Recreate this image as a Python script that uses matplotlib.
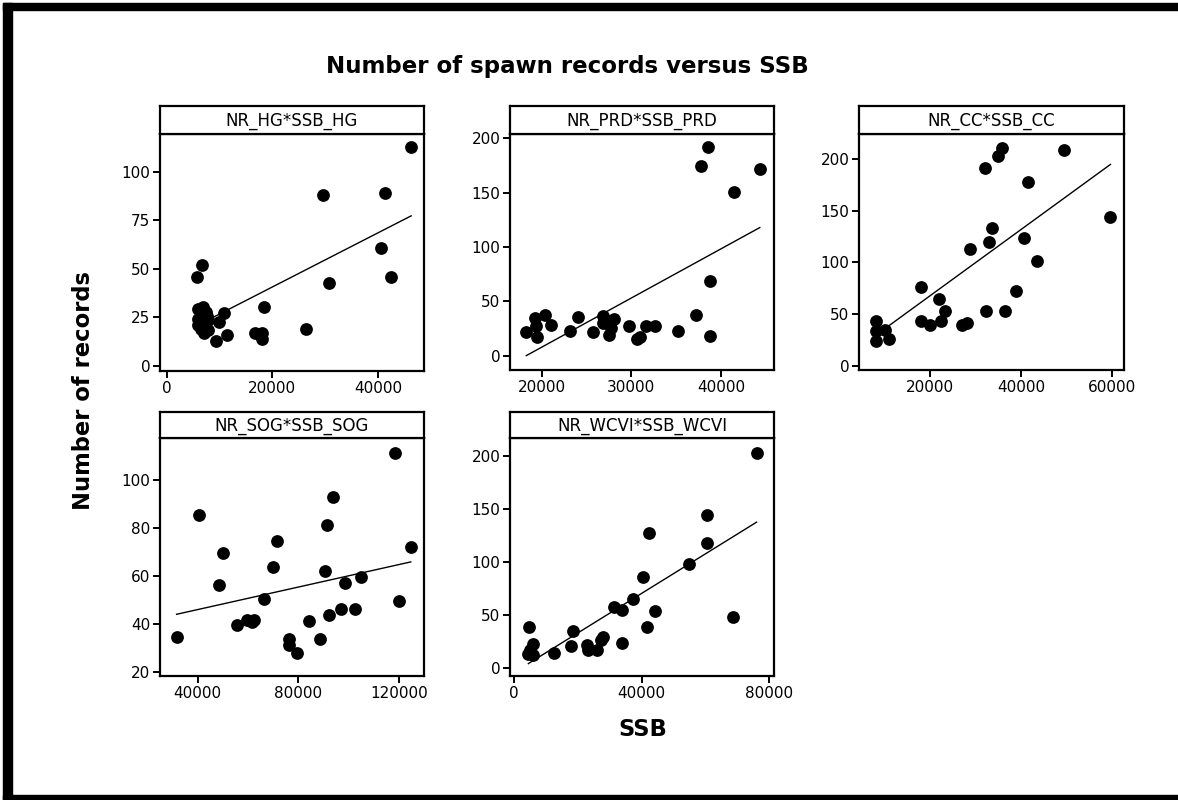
import numpy as np
import matplotlib
matplotlib.use("Agg")
import matplotlib.pyplot as plt
from matplotlib.patches import Rectangle

# Spawn records (NR) versus spawning stock biomass (SSB)
hg_ssb = [46300, 29600, 41400, 40600, 42500, 30800, 26300, 18400, 16800, 18100,
          18000, 11500, 9300, 10000, 10800, 5700, 6600, 5850, 6800, 7400,
          5850, 6500, 7850, 6500, 7100, 7850, 6000, 7600]
hg_nr = [113, 88, 89, 61, 46, 43, 19, 30.5, 17, 17,
         14, 16, 13, 22.5, 27.5, 46, 52, 29.5, 30.5, 28,
         24, 25.5, 23.5, 19, 17, 18.5, 21, 26]

prd_ssb = [38500, 37700, 44300, 41400, 38800, 37200, 38800, 35200, 32600, 31600,
           31000, 30600, 29700, 28100, 27700, 27500, 26800, 26800, 25700, 24100,
           23200, 21000, 20400, 19400, 19300, 19500, 18300]
prd_nr = [192, 175, 172, 151, 69, 37.5, 18, 23, 27, 27,
          17.5, 15.5, 27, 34, 26, 19, 36.5, 30, 21.5, 36,
          23, 28.5, 37.5, 27, 34.5, 17.5, 21.5]

cc_ssb = [35000, 35900, 32100, 49400, 41600, 59600, 33700, 32900, 28900, 40700,
          43400, 39000, 36500, 32400, 27000, 28200, 23300, 22000, 22400, 20100,
          18000, 18000, 8300, 8300, 8300, 10100, 11100]
cc_nr = [203, 210.5, 191.5, 208.5, 177.5, 143.5, 133, 120, 112.5, 124,
         101, 72, 53, 53, 39, 41, 53, 64.5, 43.5, 39.5,
         43.5, 76, 43.5, 34, 24.5, 34.5, 26]

sog_ssb = [31600, 40400, 50100, 48400, 55500, 59500, 61500, 62400, 66500, 69900,
           71400, 76400, 76400, 79400, 84200, 88800, 90500, 91300, 92100, 93700,
           96900, 98500, 102600, 104900, 118400, 120000, 124800]
sog_nr = [34.7, 85.4, 69.7, 56.4, 39.6, 41.7, 41, 41.7, 50.4, 63.9,
          74.6, 34, 31.3, 28, 41.4, 33.9, 62.2, 81.4, 43.8, 93,
          46.3, 57.2, 46.3, 59.7, 111.4, 49.6, 72.2]

wcvi_ssb = [76000, 60400, 60400, 54700, 68500, 42300, 40300, 37200, 44100, 41600,
            33700, 31300, 33700, 28000, 27200, 25900, 23300, 22800, 18400, 18000,
            12600, 4700, 6100, 5000, 4500, 5800]
wcvi_nr = [202.8, 143.9, 117.8, 98.3, 47.9, 127.2, 85.7, 64.6, 53.5, 38.4,
           23.6, 57.3, 54.8, 29, 26.5, 16.4, 17, 21.7, 34.6, 20.2,
           13.9, 38.4, 22, 17, 13.2, 11.7]

# fitted regression lines (intercept, slope)
fit_intercept = [12.8, -82.7, 3.3, 36.8, -4.7]
fit_slope = [0.001395, 0.00453, 0.00321, 0.000234, 0.00187]

panel_titles = ["NR_HG*SSB_HG", "NR_PRD*SSB_PRD", "NR_CC*SSB_CC",
                "NR_SOG*SSB_SOG", "NR_WCVI*SSB_WCVI"]
x_ticks = [[0, 20000, 40000], [20000, 30000, 40000], [20000, 40000, 60000],
           [40000, 80000, 120000], [0, 40000, 80000]]
y_ticks = [[0, 25, 50, 75, 100], [0, 50, 100, 150, 200], [0, 50, 100, 150, 200],
           [20, 40, 60, 80, 100], [0, 50, 100, 150, 200]]

xs_all = [hg_ssb, prd_ssb, cc_ssb, sog_ssb, wcvi_ssb]
ys_all = [hg_nr, prd_nr, cc_nr, sog_nr, wcvi_nr]

# layout (pixels) and axis ranges
W, H = 1178, 800
boxes = [(160, 134, 424, 371, 106), (510, 134, 774, 370, 106), (859, 134, 1124, 370, 106),
         (160, 438, 424, 676, 412), (510, 438, 774, 676, 412)]
xlims = [(-1260, 48740), (16490, 45880), (4500, 62570), (25000, 130070), (-1250, 81470)]
ylims = [(-2.6, 119.6), (-13, 204), (-4, 224), (18.5, 117.6), (-8, 217)]

fig = plt.figure(figsize=(W / 100, H / 100), dpi=100)


def frac(x0, y0, x1, y1):
    return [x0 / W, 1 - y1 / H, (x1 - x0) / W, (y1 - y0) / H]


for i in range(5):
    x0, y0, x1, y1, ys = boxes[i]
    ax = fig.add_axes(frac(x0, y0, x1, y1))
    x = np.array(xs_all[i])
    y = np.array(ys_all[i])
    ax.plot(x, y, "o", color="black", markersize=9.2, markeredgewidth=0)
    xl = np.array([x.min(), x.max()])
    ax.plot(xl, fit_intercept[i] + fit_slope[i] * xl, color="black", lw=1.0)
    ax.set_xlim(*xlims[i])
    ax.set_ylim(*ylims[i])
    ax.set_xticks(x_ticks[i])
    ax.set_yticks(y_ticks[i])
    for s in ax.spines.values():
        s.set_linewidth(1.6)
    ax.tick_params(direction="out", length=5, width=1.4, labelsize=11, pad=2)

    # strip header
    sx = fig.add_axes(frac(x0, ys, x1, y0))
    sx.set_xticks([])
    sx.set_yticks([])
    for s in sx.spines.values():
        s.set_linewidth(1.6)
    sx.text(0.5, 0.45, panel_titles[i], ha="center", va="center", fontsize=12)

fig.text(567.5 / W, 1 - 73 / H, "Number of spawn records versus SSB",
         ha="center", va="baseline", fontsize=16.5, fontweight="bold")
fig.text(83 / W, 1 - 390 / H, "Number of records", rotation=90,
         ha="center", va="center", fontsize=16.3, fontweight="bold")
fig.text(643 / W, 1 - 730 / H, "SSB", ha="center", va="center",
         fontsize=16.3, fontweight="bold")

# outer frame bands (top, left, bottom)
for (bx0, by0, bx1, by1) in [(3, 3, W, 10), (3, 3, 12, H), (3, 795, W, H)]:
    fig.patches.append(Rectangle((bx0 / W, 1 - by1 / H), (bx1 - bx0) / W, (by1 - by0) / H,
                                 transform=fig.transFigure, color="black", zorder=10))

fig.savefig("out.png", dpi=100)
